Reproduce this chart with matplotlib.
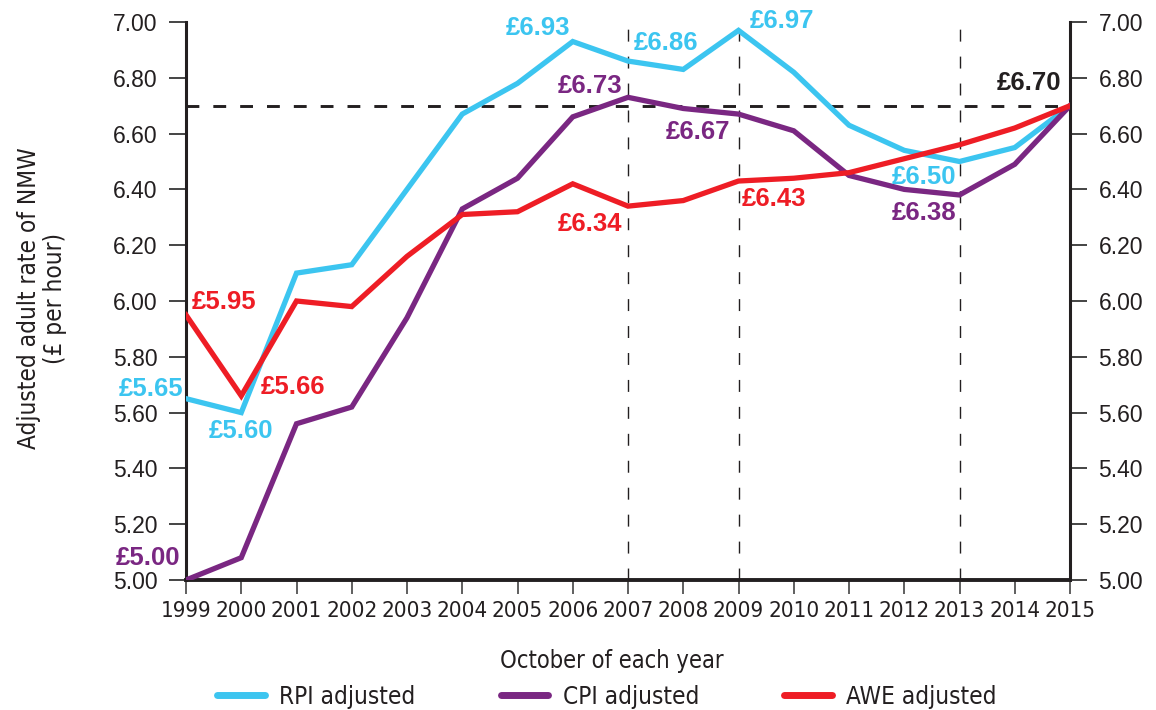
import matplotlib
matplotlib.use("Agg")
import matplotlib.pyplot as plt
from matplotlib import font_manager
from matplotlib.font_manager import FontProperties

years = list(range(1999, 2016))
rpi = [5.65, 5.60, 6.10, 6.13, 6.40, 6.67, 6.78, 6.93, 6.86, 6.83, 6.97, 6.82, 6.63, 6.54, 6.50, 6.55, 6.70]
cpi = [5.00, 5.08, 5.56, 5.62, 5.94, 6.33, 6.44, 6.66, 6.73, 6.69, 6.67, 6.61, 6.45, 6.40, 6.38, 6.49, 6.70]
awe = [5.95, 5.66, 6.00, 5.98, 6.16, 6.31, 6.32, 6.42, 6.34, 6.36, 6.43, 6.44, 6.46, 6.51, 6.56, 6.62, 6.70]
yticks = [5.00, 5.20, 5.40, 5.60, 5.80, 6.00, 6.20, 6.40, 6.60, 6.80, 7.00]
ref_level = 6.70
marker_years = [2007, 2009, 2013]

labels = [
    ("£6.93", 2005.95, 6.98, "rpi", "right"),
    ("£6.86", 2007.1, 6.925, "rpi", "left"),
    ("£6.97", 2009.2, 7.005, "rpi", "left"),
    ("£6.73", 2006.9, 6.77, "cpi", "right"),
    ("£6.67", 2008.85, 6.605, "cpi", "right"),
    ("£6.34", 2006.9, 6.275, "awe", "right"),
    ("£6.43", 2009.05, 6.365, "awe", "left"),
    ("£6.50", 2012.95, 6.445, "rpi", "right"),
    ("£6.38", 2012.95, 6.315, "cpi", "right"),
    ("£6.70", 2014.85, 6.78, "black", "right"),
    ("£5.95", 1999.1, 5.995, "awe", "left"),
    ("£5.66", 2000.35, 5.69, "awe", "left"),
    ("£5.65", 1998.95, 5.685, "rpi", "right"),
    ("£5.60", 2000.0, 5.535, "rpi", "center"),
    ("£5.00", 1998.9, 5.08, "cpi", "right"),
]

colors = {"rpi": "#3CC5F0", "cpi": "#7A2782", "awe": "#EE1D25", "black": "#231F20"}
dark = "#231F20"

cond_file = None
for pref in ["Liberation Sans Narrow", "DejaVu Sans", "Noto Sans", "Roboto", "Open Sans"]:
    for f in font_manager.fontManager.ttflist:
        if f.name == pref and str(f.stretch) in ("condensed", "semi-condensed", "75", "87") \
                and f.style == "normal" and f.weight in (400, "normal", "regular"):
            cond_file = f.fname
            break
    if cond_file:
        break

def cond(size):
    if cond_file:
        return FontProperties(fname=cond_file, size=size)
    return FontProperties(family="DejaVu Sans", size=size * 0.85)

regular = ["Liberation Sans", "DejaVu Sans"]
plt.rcParams['font.family'] = regular

fig = plt.figure(figsize=(11.56, 7.10), dpi=100)
ax = fig.add_axes([186/1156, 1-580/710, (1070-186)/1156, (580-22)/710])

lw = 3.8
ax.plot(years, rpi, color=colors["rpi"], lw=lw, solid_joinstyle="miter", label="RPI adjusted", zorder=3)
ax.plot(years, cpi, color=colors["cpi"], lw=lw, solid_joinstyle="miter", label="CPI adjusted", zorder=3)
ax.plot(years, awe, color=colors["awe"], lw=lw, solid_joinstyle="miter", label="AWE adjusted", zorder=3)

ax.axhline(ref_level, color=dark, lw=2.1, dashes=(4.4, 4.8), zorder=2)
ax.vlines(marker_years, yticks[0], yticks[-1] + 0.015, colors=dark, lw=1.0,
          linestyles=(0, (8.6, 10.8)), clip_on=False, zorder=2)

ax.set_xlim(years[0], years[-1])
ax.set_ylim(yticks[0], yticks[-1])
ax.set_xticks(years)
ax.set_xticklabels([str(y) for y in years], fontproperties=cond(16), color=dark)
ax.set_yticks(yticks)
ax.set_yticklabels([f"{v:.2f}" for v in yticks], fontsize=16.5, color=dark)
ax.tick_params(axis="y", which="both", direction="out", length=12.5, width=1.4, color="#444444",
               left=True, right=True, labelleft=True, labelright=True, pad=8)
ax.tick_params(axis="x", direction="out", length=10, width=1.2, color="#444444", pad=5)

ax.spines["top"].set_visible(False)
ax.spines["left"].set_linewidth(2.2)
ax.spines["right"].set_linewidth(2.2)
ax.spines["bottom"].set_linewidth(2.8)
for s in ["left", "right", "bottom"]:
    ax.spines[s].set_color(dark)

for text, x, y, c, ha in labels:
    ax.text(x, y, text, color=colors[c], fontsize=18.5, fontweight="bold", ha=ha, va="center",
            clip_on=False, zorder=4)

fig.text(612/1156, 1-661/710, "October of each year", fontproperties=cond(17), color=dark,
         ha="center", va="center")
fig.text(42/1156, 1-298/710, "Adjusted adult rate of NMW\n(£ per hour)", rotation=90, ha="center",
         va="center", multialignment="center", fontproperties=cond(17.5), color=dark,
         linespacing=1.15)

leg = fig.legend(loc="center", bbox_to_anchor=(607/1156, 1-697/710), ncol=3, frameon=False,
                 prop=cond(17.5), handlelength=1.95,
                 handletextpad=0.6, columnspacing=3.5)
for t in leg.get_texts():
    t.set_color(dark)
for h in leg.get_lines():
    h.set_linewidth(5)
    h.set_solid_capstyle("round")

fig.savefig("out.png", dpi=100)
